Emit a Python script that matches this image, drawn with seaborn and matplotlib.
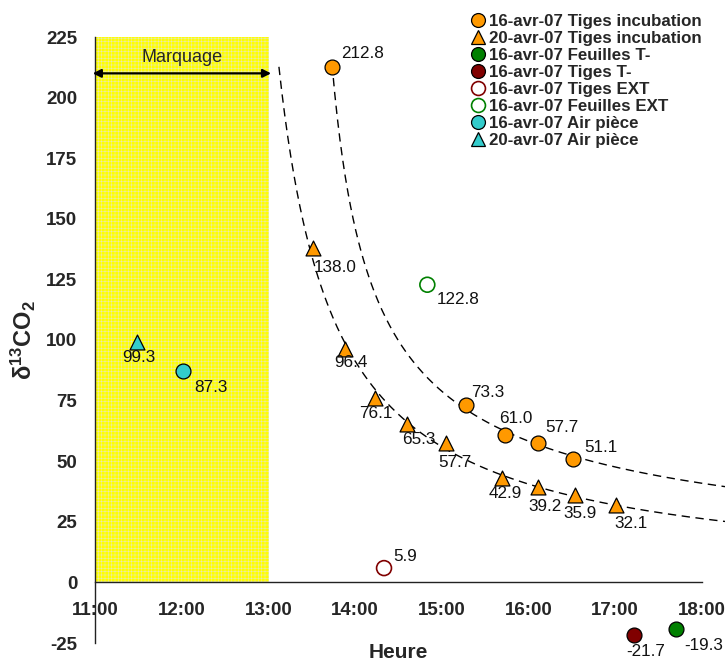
import numpy as np
import matplotlib
matplotlib.use("Agg")
import matplotlib.pyplot as plt
from matplotlib.lines import Line2D
import seaborn as sns

# --- donnees (heure, delta13CO2) ---
t16_tiges_inc = ['13:44', '15:17', '15:44', '16:07', '16:31']
y16_tiges_inc = [212.8, 73.3, 61.0, 57.7, 51.1]

t20_tiges_inc = ['13:31', '13:53', '14:14', '14:36', '15:03', '15:42', '16:07', '16:32', '17:01']
y20_tiges_inc = [138.0, 96.4, 76.1, 65.3, 57.7, 42.9, 39.2, 35.9, 32.1]

t16_feuilles_tm = ['17:42']
y16_feuilles_tm = [-19.3]
t16_tiges_tm = ['17:13']
y16_tiges_tm = [-21.7]
t16_tiges_ext = ['14:20']
y16_tiges_ext = [5.9]
t16_feuilles_ext = ['14:50']
y16_feuilles_ext = [122.8]
t16_air = ['12:01']
y16_air = [87.3]
t20_air = ['11:29']
y20_air = [99.3]

x_ticks = ['11:00', '12:00', '13:00', '14:00', '15:00', '16:00', '17:00', '18:00']
y_ticks = [-25, 0, 25, 50, 75, 100, 125, 150, 175, 200, 225]


def heures(lst):
    return np.array([int(s[:2]) + int(s[3:]) / 60 for s in lst])


orange = '#FF9900'
vert = '#008000'
rouge = '#800000'
cyan = '#33CCCC'

sns.set_style('white')
plt.rcParams['font.family'] = ['Liberation Sans', 'DejaVu Sans']
plt.rcParams['hatch.linewidth'] = 0.4
plt.rcParams['mathtext.default'] = 'regular'

fig = plt.figure(figsize=(7.25, 6.64), dpi=100)
ax = fig.add_axes([95.3 / 725, 21 / 664, 1 - 95.3 / 725, 606 / 664])
ax.set_xlim(11, 18.27)
ax.set_ylim(-25, 225)

# zone de marquage
ax.fill_between([11, 13], 0, 225, facecolor='#FFFF00', hatch='+++++',
                edgecolor='#E9E9B0', linewidth=0, zorder=0)
ax.annotate('', xy=(10.97, 210), xytext=(13.03, 210),
            arrowprops=dict(arrowstyle='<|-|>', color='black', lw=1.6,
                            mutation_scale=12, shrinkA=0, shrinkB=0),
            annotation_clip=False)
ax.text(12, 216.5, 'Marquage', ha='center', va='center', fontsize=13)

# courbes de tendance (puissance)
def tendance(t, y, t0, debut):
    b, a = np.polyfit(np.log(t - t0), np.log(y), 1)
    xx = np.linspace(debut, 18.27, 300)
    return xx, np.exp(a) * (xx - t0) ** b

for t, y, t0, debut in [(heures(t16_tiges_inc), y16_tiges_inc, 13.42, heures(t16_tiges_inc)[0]),
                        (heures(t20_tiges_inc), y20_tiges_inc, 12.5, 13.12)]:
    xx, yy = tendance(t, y, t0, debut)
    ax.plot(xx, yy, color='black', lw=1.0, dashes=(6, 4), zorder=2)

ms = 115
series = [
    (t16_tiges_inc, y16_tiges_inc, 'o', orange, True),
    (t20_tiges_inc, y20_tiges_inc, '^', orange, True),
    (t16_feuilles_tm, y16_feuilles_tm, 'o', vert, True),
    (t16_tiges_tm, y16_tiges_tm, 'o', rouge, True),
    (t16_tiges_ext, y16_tiges_ext, 'o', rouge, False),
    (t16_feuilles_ext, y16_feuilles_ext, 'o', vert, False),
    (t16_air, y16_air, 'o', cyan, True),
    (t20_air, y20_air, '^', cyan, True),
]
for t, y, m, c, plein in series:
    if plein:
        sns.scatterplot(x=heures(t), y=y, marker=m, s=ms, color=c, edgecolor='black',
                        linewidth=0.9, ax=ax, zorder=4, clip_on=False, legend=False)
    else:
        sns.scatterplot(x=heures(t), y=y, marker=m, s=ms, facecolor='none', edgecolor=c,
                        linewidth=1.2, ax=ax, zorder=4, clip_on=False, legend=False)

# etiquettes des points (decalage en pixels)
def etiquettes(t, y, offs, ha):
    for xi, yi, (dx, dy), h in zip(heures(t), y, offs, ha):
        ax.annotate(f'{yi:.1f}', (xi, yi), xytext=(dx, dy), textcoords='offset pixels',
                    ha=h, va='center', fontsize=12.3, color='#111111',
                    annotation_clip=False, zorder=5)

etiquettes(t16_tiges_inc, y16_tiges_inc, [(9, 13), (5, 12), (11, 16), (7, 15), (11, 11)],
           ['left', 'left', 'center', 'left', 'left'])
etiquettes(t20_tiges_inc, y20_tiges_inc,
           [(22, -20), (6, -14), (0, -16), (12, -15), (9, -20), (3, -15), (7, -19), (5, -18), (15, -19)],
           ['center'] * 9)
etiquettes(t16_feuilles_tm, y16_feuilles_tm, [(9, -16)], ['left'])
etiquettes(t16_tiges_tm, y16_tiges_tm, [(12, -16)], ['center'])
etiquettes(t16_tiges_ext, y16_tiges_ext, [(9, 12)], ['left'])
etiquettes(t16_feuilles_ext, y16_feuilles_ext, [(9, -15)], ['left'])
etiquettes(t16_air, y16_air, [(11, -17)], ['left'])
etiquettes(t20_air, y20_air, [(2, -16)], ['center'])

# axes
for s in ['top', 'right']:
    ax.spines[s].set_visible(False)
ax.spines['bottom'].set_position(('data', 0))
ax.spines['bottom'].set_bounds(11, 18)
for s in ['left', 'bottom']:
    ax.spines[s].set_color('#222222')
    ax.spines[s].set_linewidth(1.0)
ax.set_xticks(heures(x_ticks))
ax.set_xticklabels(x_ticks)
ax.set_yticks(y_ticks)
ax.set_yticklabels([str(v) for v in y_ticks])
ax.tick_params(axis='x', direction='in', length=5, width=1, pad=14, labelsize=13.5)
ax.tick_params(axis='y', direction='in', length=5, width=1, pad=13, labelsize=13.5)
for lab in ax.get_xticklabels() + ax.get_yticklabels():
    lab.set_fontweight('bold')

ax.text(14.5, -0.016, 'Heure', transform=ax.get_xaxis_transform(), ha='center', va='center',
        fontsize=15, fontweight='bold')
ax.set_ylabel(r'δ$^{13}$CO$_2$', fontsize=17, fontweight='bold', labelpad=6)

# legende
noms = ['16-avr-07 Tiges incubation', '20-avr-07 Tiges incubation', '16-avr-07 Feuilles T-',
        '16-avr-07 Tiges T-', '16-avr-07 Tiges EXT', '16-avr-07 Feuilles EXT',
        '16-avr-07 Air pièce', '20-avr-07 Air pièce']
poignees = []
for (t, y, m, c, plein) in series:
    if plein:
        poignees.append(Line2D([], [], ls='none', marker=m, markersize=10, markerfacecolor=c,
                               markeredgecolor='black', markeredgewidth=0.9))
    else:
        poignees.append(Line2D([], [], ls='none', marker=m, markersize=10, markerfacecolor='none',
                               markeredgecolor=c, markeredgewidth=1.2))
leg = fig.legend(poignees, noms, loc='upper left', bbox_to_anchor=(463 / 725, 1 - 7 / 664),
                 frameon=False, handlelength=1.0, handletextpad=0.15, labelspacing=0.12,
                 borderaxespad=0, prop={'weight': 'bold', 'size': 12.2})

fig.savefig('out.png', dpi=100)
